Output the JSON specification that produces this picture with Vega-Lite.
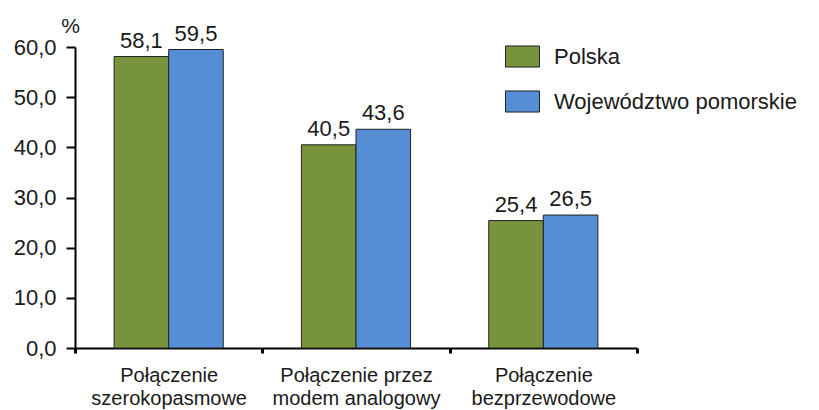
{
  "$schema": "https://vega.github.io/schema/vega-lite/v6.json",
  "width": 562,
  "height": 301,
  "autosize": "none",
  "padding": {"left": 75, "top": 47, "right": 182, "bottom": 62},
  "background": "white",
  "config": {
    "locale": {"number": {"decimal": ",", "thousands": " ", "grouping": [3], "currency": ["", " zł"]}},
    "font": "Liberation Sans",
    "view": {"stroke": null}
  },
  "data": {
    "values": [
      {"cat": "Połączenie|szerokopasmowe", "series": "Polska", "value": 58.1},
      {"cat": "Połączenie|szerokopasmowe", "series": "Województwo pomorskie", "value": 59.5},
      {"cat": "Połączenie przez|modem analogowy", "series": "Polska", "value": 40.5},
      {"cat": "Połączenie przez|modem analogowy", "series": "Województwo pomorskie", "value": 43.6},
      {"cat": "Połączenie|bezprzewodowe", "series": "Polska", "value": 25.4},
      {"cat": "Połączenie|bezprzewodowe", "series": "Województwo pomorskie", "value": 26.5}
    ]
  },
  "encoding": {
    "x": {
      "field": "cat", "type": "nominal", "sort": null,
      "scale": {"paddingInner": 0, "paddingOuter": 0},
      "axis": {
        "title": null, "labelAngle": 0, "tickBand": "extent",
        "labelExpr": "split(datum.label, '|')",
        "labelFontSize": 20, "labelColor": "#1a1a1a", "labelPadding": 12,
        "labelLineHeight": 23,
        "domainColor": "#000", "domainWidth": 2, "tickColor": "#000", "tickWidth": 3, "tickSize": 5
      }
    },
    "xOffset": {"field": "series", "type": "nominal", "scale": {"paddingInner": 0, "paddingOuter": 0.716}},
    "y": {
      "field": "value", "type": "quantitative",
      "scale": {"domain": [0, 60], "nice": false},
      "axis": {
        "title": "%", "titleAngle": 0, "titleX": -5, "titleY": -15, "titleAlign": "center", "titleBaseline": "alphabetic",
        "titleFontSize": 21, "titleFontWeight": "normal", "titleColor": "#1a1a1a",
        "values": [0, 10, 20, 30, 40, 50, 60], "format": ".1f", "grid": false,
        "labelFontSize": 22, "labelColor": "#1a1a1a", "labelPadding": 10,
        "domainColor": "#000", "domainWidth": 2, "tickColor": "#000", "tickWidth": 2, "tickSize": 9
      }
    }
  },
  "layer": [
    {
      "mark": {"type": "bar", "stroke": "#222", "strokeWidth": 1},
      "encoding": {
        "color": {
          "field": "series", "type": "nominal",
          "scale": {"domain": ["Polska", "Województwo pomorskie"], "range": ["#77933C", "#558ED5"]},
          "legend": {
            "title": null, "orient": "none", "legendX": 430, "legendY": -8,
            "symbolType": "M-1,-0.62L1,-0.62L1,0.62L-1,0.62Z", "symbolSize": 1156,
            "symbolStrokeColor": "#222", "symbolStrokeWidth": 1,
            "labelFontSize": 22, "labelColor": "#1a1a1a", "labelOffset": 14,
            "rowPadding": 14, "labelLimit": 400
          }
        }
      }
    },
    {
      "mark": {"type": "text", "baseline": "alphabetic", "dy": -9, "fontSize": 22, "color": "#1a1a1a"},
      "encoding": {
        "text": {"field": "value", "type": "quantitative", "format": ".1f"}
      }
    }
  ]
}
